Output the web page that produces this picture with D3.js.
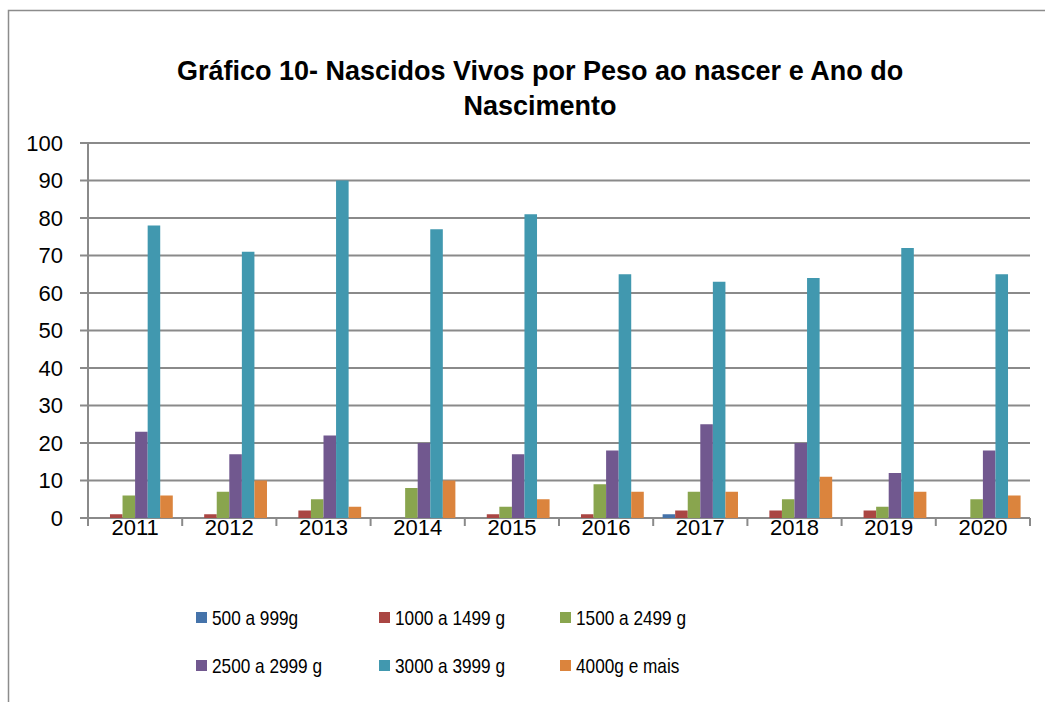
<!DOCTYPE html>
<html>
<head>
<meta charset="utf-8">
<script src="https://cdn.jsdelivr.net/npm/d3@7"></script>
<style>
  body { margin: 0; background: #fff; }
  text { fill: #000; font-family: 'Liberation Sans', Arial, sans-serif; }
</style>
</head>
<body>
<script>
// Data
var years = ["2011","2012","2013","2014","2015","2016","2017","2018","2019","2020"];
var series = ["500 a 999g", "1000 a 1499 g", "1500 a 2499 g", "2500 a 2999 g", "3000 a 3999 g", "4000g e mais"];
var colors = ["#4573AA", "#AA4643", "#89A54E", "#71588F", "#4198AF", "#DB843D"];
var v500  = [0, 0, 0, 0, 0, 0, 1, 0, 0, 0];
var v1000 = [1, 1, 2, 0, 1, 1, 2, 2, 2, 0];
var v1500 = [6, 7, 5, 8, 3, 9, 7, 5, 3, 5];
var v2500 = [23, 17, 22, 20, 17, 18, 25, 20, 12, 18];
var v3000 = [78, 71, 90, 77, 81, 65, 63, 64, 72, 65];
var v4000 = [6, 10, 3, 10, 5, 7, 7, 11, 7, 6];
var values = [v500, v1000, v1500, v2500, v3000, v4000];
var yTicks = [0, 10, 20, 30, 40, 50, 60, 70, 80, 90, 100];

var W = 1045, H = 702;
var plotL = 88, plotR = 1030, plotT = 143, plotB = 518;

var svg = d3.select("body").append("svg")
  .attr("width", W)
  .attr("height", H);

// chart border
svg.append("path")
  .attr("d", "M8.5," + H + "V10.5H" + W)
  .attr("fill", "none")
  .attr("stroke", "#8c8c8c")
  .attr("stroke-width", 1.5);

// Title
var title = svg.append("text")
  .attr("text-anchor", "middle")
  .attr("font-weight", "bold")
  .attr("font-size", 27);
title.append("tspan").attr("x", 540).attr("y", 80).text("Gráfico 10- Nascidos Vivos por Peso ao nascer e Ano do");
title.append("tspan").attr("x", 540).attr("y", 115).text("Nascimento");

// Scales
var y = d3.scaleLinear().domain([0, 100]).range([plotB, plotT]);
var x0 = d3.scaleBand().domain(years).range([plotL, plotR]).paddingInner(0.2).paddingOuter(0.1);
var x1 = d3.scaleBand().domain(d3.range(series.length)).range([0, x0.bandwidth()]);
var xEdges = d3.scaleLinear().domain([0, years.length]).range([plotL, plotR]);

// gridlines
svg.append("g").selectAll("line")
  .data(yTicks)
  .join("line")
  .attr("x1", plotL - 8)
  .attr("x2", plotR)
  .attr("y1", function(d){ return y(d); })
  .attr("y2", function(d){ return y(d); })
  .attr("stroke", "#8a8a8a")
  .attr("stroke-width", 2);

// y axis line
svg.append("line")
  .attr("x1", plotL).attr("x2", plotL)
  .attr("y1", plotT).attr("y2", plotB)
  .attr("stroke", "#8a8a8a").attr("stroke-width", 2);

// y labels
svg.append("g").selectAll("text")
  .data(yTicks)
  .join("text")
  .attr("x", 63)
  .attr("y", function(d){ return y(d); })
  .attr("dy", "0.36em")
  .attr("text-anchor", "end")
  .attr("font-size", 22)
  .text(function(d){ return d; });

// x axis ticks
svg.append("g").selectAll("line")
  .data(d3.range(years.length + 1))
  .join("line")
  .attr("x1", function(d){ return xEdges(d); })
  .attr("x2", function(d){ return xEdges(d); })
  .attr("y1", plotB)
  .attr("y2", plotB + 8)
  .attr("stroke", "#8a8a8a").attr("stroke-width", 2);

// bars
var groups = svg.append("g").selectAll("g")
  .data(years)
  .join("g")
  .attr("transform", function(d){ return "translate(" + x0(d) + ",0)"; });

groups.selectAll("rect")
  .data(function(d, i){ return values.map(function(s, k){ return {k: k, v: s[i]}; }); })
  .join("rect")
  .attr("x", function(d){ return x1(d.k); })
  .attr("width", x1.bandwidth())
  .attr("y", function(d){ return y(d.v); })
  .attr("height", function(d){ return y(0) - y(d.v); })
  .attr("fill", function(d){ return colors[d.k]; });

// x labels
svg.append("g").selectAll("text")
  .data(years)
  .join("text")
  .attr("x", function(d){ return x0(d) + x0.bandwidth() / 2; })
  .attr("y", 535)
  .attr("text-anchor", "middle")
  .attr("font-size", 22)
  .text(function(d){ return d; });

// legend (text squeezed a bit to mimic the narrower original font)
var legX = [196, 379, 560];
var legY = [617, 665];
var legend = svg.append("g").selectAll("g")
  .data(series)
  .join("g")
  .attr("transform", function(d, i){ return "translate(" + legX[i % 3] + "," + legY[Math.floor(i / 3)] + ")"; });
legend.append("rect")
  .attr("x", 0).attr("y", -5)
  .attr("width", 11).attr("height", 11)
  .attr("fill", function(d, i){ return colors[i]; });
legend.append("text")
  .attr("transform", "translate(16,0) scale(0.82,1)")
  .attr("dy", "0.36em")
  .attr("font-size", 21)
  .text(function(d){ return d; });
</script>
</body>
</html>
